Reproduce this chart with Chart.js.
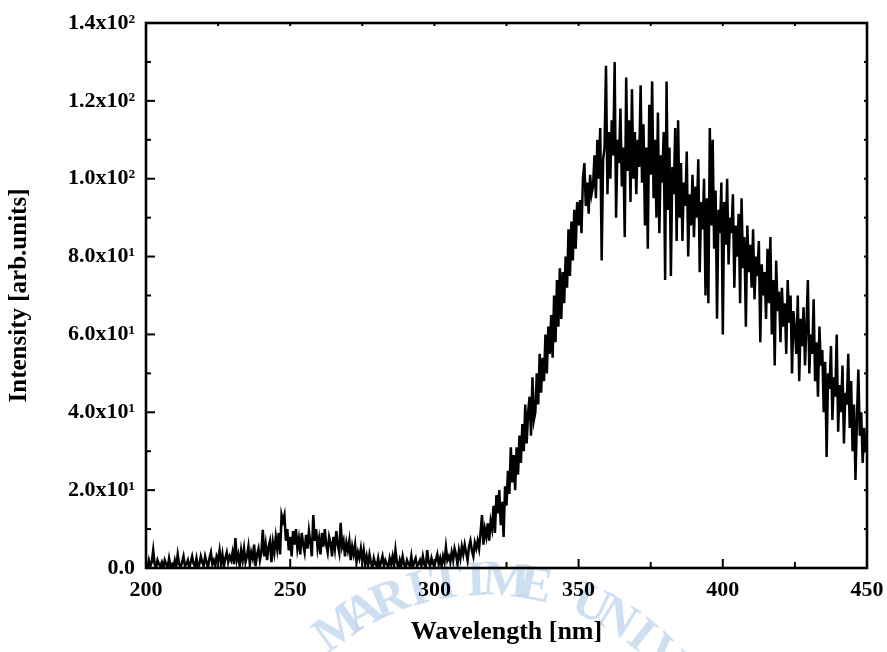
<!DOCTYPE html>
<html>
<head>
<meta charset="utf-8">
<script src="https://cdn.jsdelivr.net/npm/chart.js@4.4.0/dist/chart.umd.min.js"></script>
<style>
  html, body { margin: 0; padding: 0; background: #ffffff; }
  #spectre { display: block; }
</style>
</head>
<body>
<canvas id="spectre" width="887" height="652"></canvas>
<script>
// Axe des longueurs d'onde : 200 nm à 450 nm, un point tous les 0.5 nm
const wavelengthStart = 200;
const wavelengthStep = 0.5;

// Intensités (par blocs de 5 nm, 10 valeurs par bloc)
// 200 – 300 nm : bruit de fond et petite bosse vers 250 nm
const baselineUV = [
  1, 0, 2, 0.5, 1.5, 4.6, 1, 0, 2, 1,
  0.5, 1.5, 0, 2, 1, 0, 2.5, 0.5, 1, 0,
  2, 0.5, 3.5, 1, 0, 1.5, 3, 0.5, 1, 2,
  0, 1.5, 3, 1, 0.5, 2.5, 0, 1, 3, 1.5,
  0.5, 3, 1.5, 0, 2.5, 4, 1, 2, 0.5, 3,
  2, 4.5, 1, 3.5, 0.5, 2.5, 4, 1.5, 3, 2,
  4, 1, 7.7, 2, 3.5, 0.5, 4.5, 2, 5, 1.5,
  3, 5.5, 1, 4, 2.5, 6, 0.5, 3.5, 5, 2,
  4, 9.8, 3, 6, 2, 5.5, 7, 1.5, 6.5, 4,
  8, 5, 9, 3.5, 13.6, 12, 13.6, 7, 10, 4.5,
  8, 3, 9.5, 6, 10, 5, 7.5, 3.5, 9, 6,
  4, 8.5, 5, 9.5, 6.5, 3, 13.6, 7, 10, 5,
  7.5, 3.5, 9, 5.5, 10, 6, 4, 8, 6.5, 3,
  8, 5, 9.5, 6, 4, 11.6, 5.5, 7, 3, 6.5,
  4.5, 7, 2, 5.5, 3.5, 6, 1.5, 4, 2.5, 5,
  2, 4.5, 1, 3, 0.5, 3.5, 1.5, 0, 2.5, 1,
  0.5, 2.5, 0, 1.5, 3, 0.5, 2, 1, 0, 2.5,
  1, 3, 0.5, 4.6, 1.5, 0, 2, 0.5, 3, 1,
  0, 2, 1, 0.5, 3, 0, 1.5, 2.5, 0.5, 1,
  2, 0.5, 3, 1, 0, 4.6, 1.5, 0.5, 2.5, 1
];

// 300 – 350 nm : front de montée
const risingEdge = [
  0.5, 2, 3.5, 1, 2.5, 0.5, 3, 1.5, 5.4, 2,
  3, 1.5, 4, 2, 5, 3.5, 1, 4.5, 2.5, 5.5,
  3.5, 6, 4, 2, 5.5, 7, 4.5, 3, 6.5, 5,
  7, 5, 9, 13.6, 6, 10, 8, 11.5, 7, 12,
  10, 16, 9, 18.7, 14, 20, 11, 17, 8, 21,
  16, 25, 19, 31, 22, 29, 20, 31, 24, 34,
  27, 37, 30, 42, 32, 40, 44, 34, 49, 38,
  40, 50, 42, 55, 45, 54, 48, 60, 50, 62,
  55, 65, 54, 70, 58, 74, 62, 77, 64, 76,
  68, 80, 72, 87, 75, 89, 79, 92, 82, 94
];

// 350 – 400 nm : sommet de la bande
const peakBand = [
  88, 94.5, 86, 100, 104, 93, 99, 91, 101, 96,
  98, 106, 95, 110, 100, 113, 79, 105, 108, 129,
  96, 112, 100, 115, 106, 130, 90, 110, 104, 118,
  98, 108, 85, 126, 102, 115, 94, 123, 100, 112,
  96, 110, 103, 124, 99, 114, 88, 108, 82, 119,
  101, 125, 95, 110, 90, 117, 86, 106, 99, 112,
  74, 125, 92, 108, 75, 103, 96, 113, 84, 115,
  90, 104, 84, 99, 93, 107, 80, 96, 88, 101,
  85, 98, 90, 105, 76, 94, 87, 100, 70, 95,
  68, 113, 88, 110, 82, 97, 64, 92, 86, 99
];

// 400 – 450 nm : décroissance
const fallingTail = [
  60, 94, 83, 100, 78, 90, 86, 96, 72, 88,
  80, 91, 68, 95, 77, 85, 62, 88, 76, 83,
  72, 87, 69, 80, 75, 84, 58, 78, 70, 76,
  64, 82, 68, 85, 60, 74, 52, 79, 66, 71,
  58, 72, 62, 68, 55, 74, 63, 70, 50, 66,
  61, 55, 70, 48, 64, 57, 67, 52, 62, 74,
  50, 60, 55, 69, 48, 58, 44, 62, 52, 56,
  40, 53, 28.5, 50, 46, 57, 38, 49, 44, 60,
  35, 47, 40, 52, 32, 45, 42, 55, 36, 48,
  30, 42, 22.6, 38, 51, 34, 40, 27, 36, 31,
  32
];

// Graduations
const xTicks = [200, 250, 300, 350, 400, 450];
const yTicks = [0, 20, 40, 60, 80, 100, 120, 140];
const yTickLabels = ['0.0', '2.0x10¹', '4.0x10¹', '6.0x10¹', '8.0x10¹', '1.0x10²', '1.2x10²', '1.4x10²'];

const intensities = baselineUV.concat(risingEdge, peakBand, fallingTail);
const points = intensities.map((v, i) => ({ x: wavelengthStart + i * wavelengthStep, y: v }));

const serif = "'Liberation Serif', 'Times New Roman', serif";

// Cadre noir + graduations intérieures (majeures / mineures)
const cadre = {
  id: 'cadre',
  afterDatasetsDraw(chart) {
    const { ctx, chartArea: a, scales: { x, y } } = chart;
    ctx.save();
    ctx.strokeStyle = '#000';
    ctx.lineCap = 'butt';
    const seg = (x1, y1, x2, y2) => { ctx.beginPath(); ctx.moveTo(x1, y1); ctx.lineTo(x2, y2); ctx.stroke(); };
    ctx.lineWidth = 2;
    for (let v = 0; v <= 140; v += 10) {
      const py = y.getPixelForValue(v);
      seg(a.left, py, a.left + (v % 20 === 0 ? 9 : 5), py);
      seg(a.right, py, a.right - 3, py);
    }
    for (let v = 200; v <= 450; v += 25) {
      const px = x.getPixelForValue(v);
      seg(px, a.bottom, px, a.bottom - (v % 50 === 0 ? 9 : 6));
      seg(px, a.top, px, a.top + 3);
    }
    ctx.lineWidth = 2.6;
    ctx.strokeRect(a.left, a.top, a.right - a.left, a.bottom - a.top);
    ctx.restore();
  }
};

// Filigrane bleu pâle en arc (sous le titre de l'axe x)
const filigrane = {
  id: 'filigrane',
  beforeDraw(chart) {
    const { ctx } = chart;
    const texte = 'MARITIME UNIVERSITY';
    const cx = 485, cy = 830, r = 248;
    ctx.save();
    ctx.fillStyle = 'rgba(190, 212, 236, 0.75)';
    ctx.font = 'bold 50px ' + serif;
    ctx.textAlign = 'center';
    ctx.textBaseline = 'middle';
    for (let i = 0; i < texte.length; i++) {
      const ang = (-126 + i * 6.8) * Math.PI / 180;
      ctx.save();
      ctx.translate(cx + r * Math.cos(ang), cy + r * Math.sin(ang));
      ctx.rotate(ang + Math.PI / 2);
      ctx.fillText(texte[i], 0, 0);
      ctx.restore();
    }
    ctx.restore();
  }
};

new Chart(document.getElementById('spectre').getContext('2d'), {
  type: 'line',
  data: {
    datasets: [{
      data: points,
      borderColor: '#000',
      borderWidth: 2.5,
      pointRadius: 0,
      tension: 0,
      fill: false
    }]
  },
  options: {
    responsive: false,
    animation: false,
    events: [],
    layout: { padding: { top: 23, right: 20, left: 0, bottom: 0 } },
    plugins: { legend: { display: false }, tooltip: { enabled: false } },
    scales: {
      x: {
        type: 'linear',
        min: 200,
        max: 450,
        afterFit: (s) => { s.height = 84; s.paddingLeft = 0; s.paddingRight = 0; },
        afterBuildTicks: (s) => { s.ticks = xTicks.map(v => ({ value: v })); },
        grid: { display: false, drawTicks: false },
        border: { display: false },
        ticks: {
          color: '#000',
          padding: 9,
          maxRotation: 0,
          autoSkip: false,
          font: { family: serif, size: 22, weight: 'bold' }
        },
        title: {
          display: true,
          text: 'Wavelength [nm]',
          color: '#000',
          padding: { top: 0, bottom: 4 },
          font: { family: serif, size: 26, weight: 'bold' }
        }
      },
      y: {
        min: 0,
        max: 140,
        afterFit: (s) => { s.width = 146; s.paddingTop = 0; s.paddingBottom = 0; },
        afterBuildTicks: (s) => { s.ticks = yTicks.map(v => ({ value: v })); },
        grid: { display: false, drawTicks: false },
        border: { display: false },
        ticks: {
          color: '#000',
          padding: 11,
          font: { family: serif, size: 22, weight: 'bold' },
          callback: (v) => yTickLabels[yTicks.indexOf(v)] ?? ''
        },
        title: {
          display: true,
          text: 'Intensity [arb.units]',
          color: '#000',
          padding: { top: 5, bottom: 0 },
          font: { family: serif, size: 25, weight: 'bold' }
        }
      }
    }
  },
  plugins: [filigrane, cadre]
});
</script>
</body>
</html>
